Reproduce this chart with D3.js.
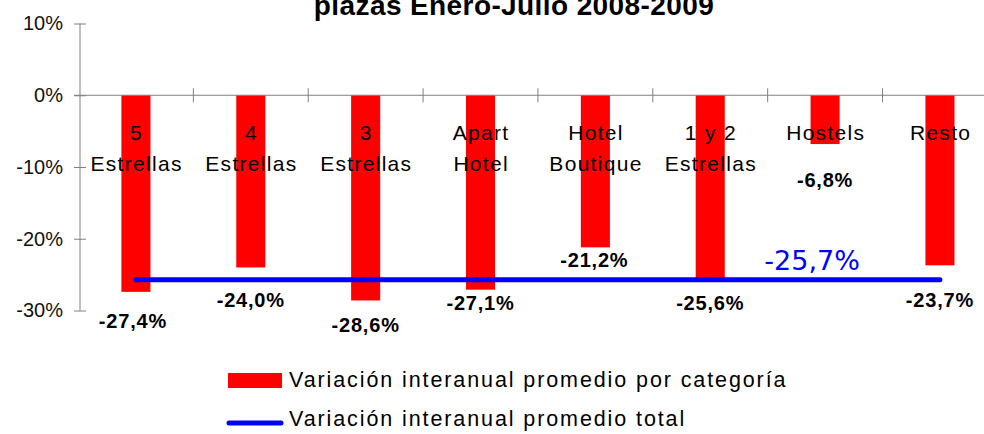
<!DOCTYPE html>
<html>
<head>
<meta charset="utf-8">
<script src="https://cdn.jsdelivr.net/npm/d3@7"></script>
<style>
  body { margin: 0; background: #fff; }
  svg { display: block; font-family: "Liberation Sans", Arial, sans-serif; }
  .axis path, .axis line { stroke: #808080; }
</style>
</head>
<body>
<svg id="chart" width="984" height="434"></svg>
<script>
// data
var categories = ["5\nEstrellas", "4\nEstrellas", "3\nEstrellas", "Apart\nHotel",
                  "Hotel\nBoutique", "1 y 2\nEstrellas", "Hostels", "Resto"];
var variacion = [-27.4, -24.0, -28.6, -27.1, -21.2, -25.6, -6.8, -23.7];
var promedioTotal = -25.7;
var yTicks = [10, 0, -10, -20, -30];
var legendLabels = ["Variación interanual promedio por categoría",
                    "Variación interanual promedio total"];
var titleText = "plazas Enero-Julio 2008-2009";

// hand-placed value labels (dx, dy under the bar end), as in the original
var labelShift = [[-3, 36], [0, 40], [0, 32], [0, 20], [-1, 20], [0, 31], [0, 43], [0, 42]];

var fmt = function (v) { return v.toFixed(1).replace(".", ",") + "%"; };

var svg = d3.select("#chart");

var x = d3.scaleBand()
    .domain(categories)
    .range([78.5, 78.5 + 8 * 114.86])
    .paddingInner(0.747)
    .paddingOuter(0.3735);

var y = d3.scaleLinear()
    .domain([-30, 10])
    .range([310.5, 23.5]);

// title (only last line visible, top clipped like the original)
svg.append("text")
    .attr("x", 514)
    .attr("y", 15)
    .attr("text-anchor", "middle")
    .attr("font-size", 28)
    .attr("font-weight", "bold")
    .attr("letter-spacing", 0.4)
    .attr("fill", "#000")
    .text(titleText);

// bars
svg.append("g").selectAll("rect")
    .data(variacion)
    .enter().append("rect")
    .attr("x", function (d, i) { return x(categories[i]); })
    .attr("y", y(0))
    .attr("width", x.bandwidth())
    .attr("height", function (d) { return y(d) - y(0); })
    .attr("fill", "#ff0000");

// y axis
var yAxis = d3.axisLeft(y)
    .tickValues(yTicks)
    .tickSize(6)
    .tickFormat(function (d) { return d + "%"; });
var gy = svg.append("g")
    .attr("class", "axis")
    .attr("transform", "translate(80,0)")
    .call(yAxis);
gy.select(".domain").attr("d", "M0," + y(10) + "V" + y(-30));
gy.selectAll(".tick line").attr("x1", -6).attr("x2", 6);
gy.selectAll(".tick text")
    .attr("x", -17)
    .attr("dy", "0.32em")
    .attr("font-size", 20)
    .attr("font-family", "'Liberation Sans', Arial, sans-serif")
    .attr("fill", "#111");

// x axis at 0 with cross tick marks between categories
var gx = svg.append("g").attr("class", "axis");
gx.append("line")
    .attr("x1", 74).attr("x2", 984)
    .attr("y1", y(0)).attr("y2", y(0))
    .attr("stroke", "#808080");
gx.selectAll("line.tk")
    .data(categories)
    .enter().append("line")
    .attr("class", "tk")
    .attr("x1", function (d) { return x(d) + x.bandwidth() / 2 + x.step() / 2; })
    .attr("x2", function (d) { return x(d) + x.bandwidth() / 2 + x.step() / 2; })
    .attr("y1", y(0) - 7).attr("y2", y(0) + 7)
    .attr("stroke", "#808080");

// category labels
var catG = svg.append("g");
categories.forEach(function (c) {
    var t = catG.append("text")
        .attr("text-anchor", "middle")
        .attr("font-size", 21)
        .attr("letter-spacing", 1.3)
        .attr("fill", "#000");
    c.split("\n").forEach(function (line, j) {
        t.append("tspan")
            .attr("x", x(c) + x.bandwidth() / 2 + 0.65)
            .attr("y", 140 + j * 31)
            .text(line);
    });
});

// promedio total line
svg.append("line")
    .attr("x1", x(categories[0]) + x.bandwidth() / 2)
    .attr("x2", x(categories[categories.length - 1]) + x.bandwidth() / 2)
    .attr("y1", y(promedioTotal))
    .attr("y2", y(promedioTotal))
    .attr("stroke", "#0000ff")
    .attr("stroke-width", 5)
    .attr("stroke-linecap", "round");

svg.append("text")
    .attr("x", x(categories[6]) + x.bandwidth() / 2 - 13)
    .attr("y", y(promedioTotal) - 9.5)
    .attr("text-anchor", "middle")
    .attr("font-family", "'DejaVu Sans', sans-serif")
    .attr("font-size", 27)
    .attr("fill", "#0000ff")
    .text(fmt(promedioTotal));

// value labels
svg.append("g").selectAll("text")
    .data(variacion)
    .enter().append("text")
    .attr("x", function (d, i) { return x(categories[i]) + x.bandwidth() / 2 + labelShift[i][0]; })
    .attr("y", function (d, i) { return y(d) + labelShift[i][1]; })
    .attr("text-anchor", "middle")
    .attr("font-size", 20)
    .attr("font-weight", "bold")
    .attr("letter-spacing", 0.8)
    .attr("fill", "#000")
    .text(fmt);

// legend
var leg = svg.append("g");
leg.append("rect")
    .attr("x", 228).attr("y", 373)
    .attr("width", 54).attr("height", 15)
    .attr("fill", "#ff0000");
leg.append("line")
    .attr("x1", 229).attr("x2", 281)
    .attr("y1", 423).attr("y2", 423)
    .attr("stroke", "#0000ff")
    .attr("stroke-width", 5)
    .attr("stroke-linecap", "round");
leg.selectAll("text")
    .data(legendLabels)
    .enter().append("text")
    .attr("x", 289)
    .attr("y", function (d, i) { return 387 + i * 39; })
    .attr("font-size", 21.5)
    .attr("letter-spacing", 1.9)
    .attr("fill", "#000")
    .text(function (d) { return d; });
</script>
</body>
</html>
